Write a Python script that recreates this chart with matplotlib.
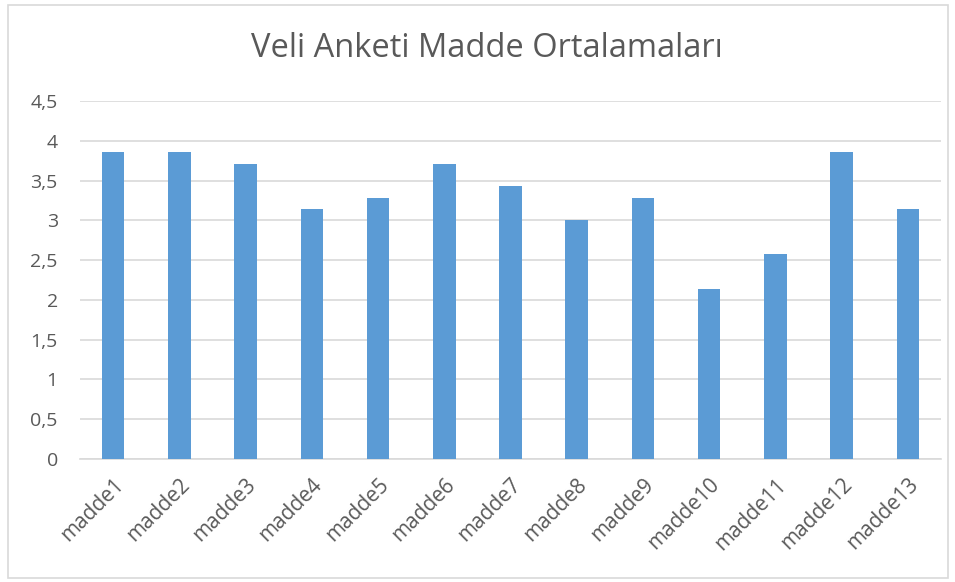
import matplotlib
matplotlib.use("Agg")
import matplotlib.pyplot as plt
from matplotlib.patches import Rectangle

categories = ["madde1", "madde2", "madde3", "madde4", "madde5", "madde6", "madde7",
              "madde8", "madde9", "madde10", "madde11", "madde12", "madde13"]
values = [3.857, 3.857, 3.714, 3.143, 3.286, 3.714, 3.429, 3.0, 3.286, 2.143, 2.571, 3.857, 3.143]
yticks = [0, 0.5, 1, 1.5, 2, 2.5, 3, 3.5, 4, 4.5]
ytick_labels = ["0", "0,5", "1", "1,5", "2", "2,5", "3", "3,5", "4", "4,5"]
title = "Veli Anketi Madde Ortalamaları"

plt.rcParams['font.family'] = ['Open Sans', 'DejaVu Sans']
W, H = 955, 582
fig = plt.figure(figsize=(W/100, H/100), dpi=100)
ax = fig.add_axes([80/W, 1-459/H, (941-80)/W, (459-101)/H])

x = list(range(len(categories)))
ax.bar(x, values, width=0.34, color="#5B9BD5", zorder=3)
ax.set_xlim(-0.5, len(categories)-0.5)
ax.set_ylim(0, 4.5)
ax.set_yticks(yticks)
ax.set_yticklabels(ytick_labels)
ax.set_xticks(x)
ax.set_xticklabels(categories, rotation=45, ha="right", rotation_mode="anchor")
ax.grid(axis="y", color="#D9D9D9", linewidth=1.2, zorder=0)
for s in ["top", "right", "left"]:
    ax.spines[s].set_visible(False)
ax.spines["bottom"].set_color("#D9D9D9")
ax.spines["bottom"].set_linewidth(1.2)
ax.tick_params(axis="both", length=0, labelcolor="#595959")
ax.tick_params(axis="y", pad=16, labelsize=14)
ax.tick_params(axis="x", pad=11, labelsize=15)

fig.text(487/W, 1-57/H, title, ha="center", va="baseline", fontsize=23.5, color="#595959")

fig.patches.append(Rectangle((8/W, 4/H), (948-8)/W, (577-4)/H, transform=fig.transFigure,
                             fill=False, edgecolor="#D9D9D9", linewidth=1.2))

fig.savefig("out.png", dpi=100)
